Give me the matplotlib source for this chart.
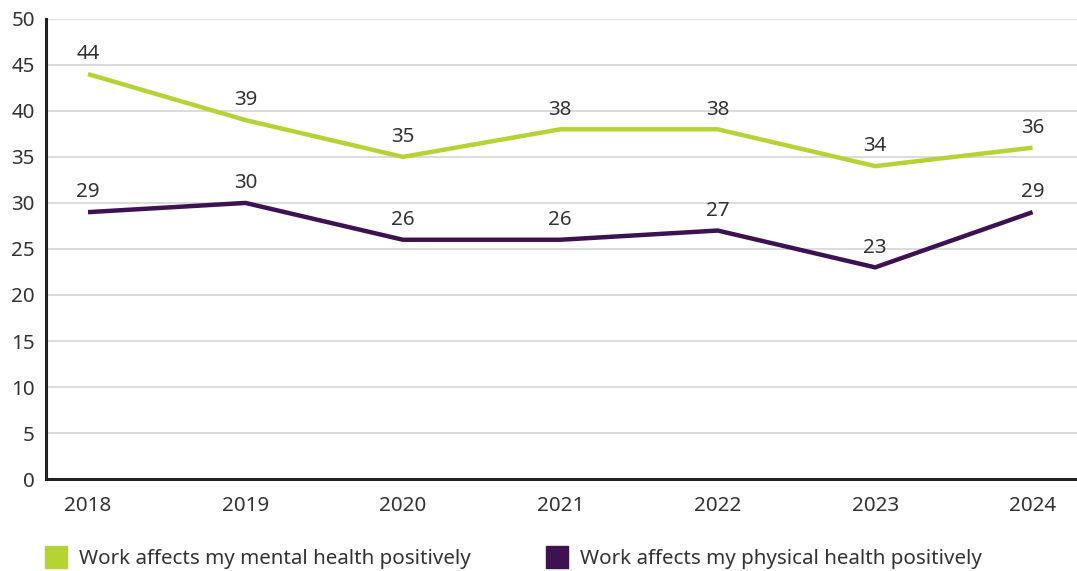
import matplotlib
matplotlib.use("Agg")
import matplotlib.pyplot as plt
from matplotlib.patches import Rectangle

years = [2018, 2019, 2020, 2021, 2022, 2023, 2024]
mental = [44, 39, 35, 38, 38, 34, 36]
physical = [29, 30, 26, 26, 27, 23, 29]
labels = ["Work affects my mental health positively",
          "Work affects my physical health positively"]

green = "#b5d334"
purple = "#3d1152"
txt = "#333333"
fs = 14.8

plt.rcParams["font.family"] = ["Noto Sans", "DejaVu Sans"]

fig = plt.figure(figsize=(10.77, 5.71), dpi=100)
ax = fig.add_axes([0.0427, 0.161, 0.957, 0.806])

ax.plot(years, mental, color=green, lw=3.2, solid_capstyle="butt", zorder=3)
ax.plot(years, physical, color=purple, lw=3.2, solid_capstyle="butt", zorder=3)

for x, v in zip(years, mental):
    ax.annotate(str(v), (x, v), xytext=(0, 7), textcoords="offset points",
                ha="center", va="bottom", fontsize=fs, color=txt)
for x, v in zip(years, physical):
    ax.annotate(str(v), (x, v), xytext=(0, 7), textcoords="offset points",
                ha="center", va="bottom", fontsize=fs, color=txt)

ax.set_ylim(0, 50)
ax.set_xlim(2017.733, 2024.28)
ax.set_yticks(range(0, 51, 5))
ax.set_xticks(years)
ax.grid(axis="y", color="#d9d9d9", lw=1.3)
ax.set_axisbelow(True)
for s in ["top", "right"]:
    ax.spines[s].set_visible(False)
for s in ["left", "bottom"]:
    ax.spines[s].set_color("#222222")
    ax.spines[s].set_linewidth(2.2)
ax.tick_params(length=0, labelsize=fs, colors=txt)
ax.tick_params(axis="x", pad=12)
ax.tick_params(axis="y", pad=8)

# legend drawn as squares + text in figure coords
W, H = 1077, 571
for px, col, lab in [(45, green, labels[0]), (546, purple, labels[1])]:
    fig.patches.append(Rectangle((px / W, 1 - 568 / H), 22 / W, 22 / H,
                                 transform=fig.transFigure, color=col))
    fig.text((px + 34) / W, 1 - 559 / H, lab, fontsize=fs, color=txt,
             va="center", ha="left")

fig.savefig("out.png", dpi=100)
